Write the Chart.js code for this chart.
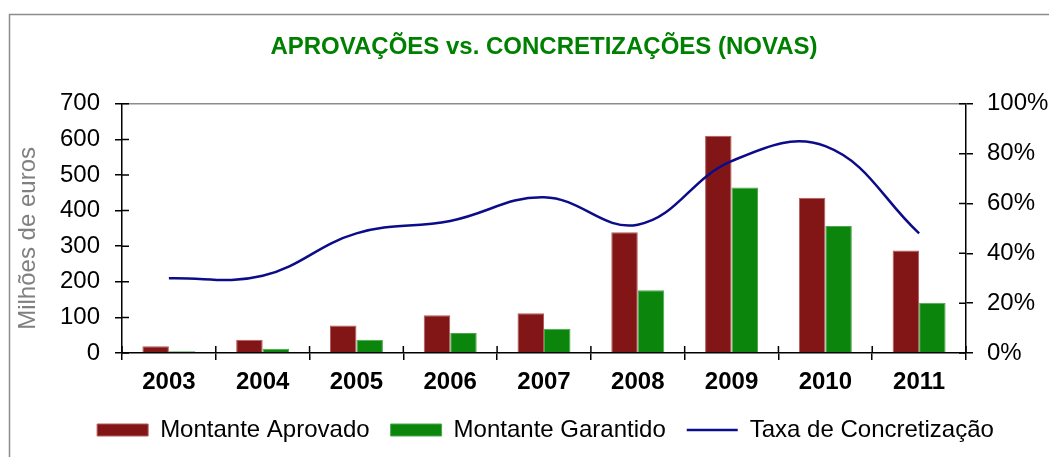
<!DOCTYPE html>
<html>
<head>
<meta charset="utf-8">
<script src="https://cdn.jsdelivr.net/npm/chart.js@4"></script>
<style>
  html, body { margin: 0; padding: 0; background: #ffffff; }
  #wrap { width: 1049px; height: 457px; position: relative; }
</style>
</head>
<body>
<div id="wrap"><canvas id="chart"></canvas></div>
<script>
const years = ['2003', '2004', '2005', '2006', '2007', '2008', '2009', '2010', '2011'];
const montanteAprovado = [19, 37, 77, 106, 112, 339, 610, 436, 288];
const montanteGarantido = [5, 12, 37, 56, 68, 176, 465, 357, 141];
const taxaConcretizacao = [30, 31, 48, 53, 62.5, 51.5, 77, 83, 48];

Chart.defaults.font.family = '"Liberation Sans", Arial, sans-serif';
Chart.defaults.color = '#000000';

// outer frame and the grey top edge of the plot area
const framePlugin = {
    id: 'frame',
    beforeDraw(chart) {
        const { ctx } = chart;
        ctx.save();
        ctx.fillStyle = '#ffffff';
        ctx.fillRect(0, 0, chart.width, chart.height);
        ctx.strokeStyle = '#8c8c8c';
        ctx.lineWidth = 1.5;
        ctx.beginPath();
        ctx.moveTo(9.5, chart.height + 5);
        ctx.lineTo(9.5, 14.5);
        ctx.lineTo(chart.width + 5, 14.5);
        ctx.stroke();
        ctx.restore();
    },
    beforeDatasetsDraw(chart) {
        const { ctx, chartArea } = chart;
        ctx.save();
        ctx.strokeStyle = '#8c8c8c';
        ctx.lineWidth = 1.5;
        ctx.beginPath();
        ctx.moveTo(chartArea.left, chartArea.top);
        ctx.lineTo(chartArea.right, chartArea.top);
        ctx.stroke();
        ctx.restore();
    },
};

// excel-style tick marks that cross the axis (inner half)
const crossTicks = {
    id: 'crossTicks',
    afterDatasetsDraw(chart) {
        const { ctx, chartArea, scales } = chart;
        const len = 7;
        ctx.save();
        ctx.strokeStyle = '#000000';
        ctx.lineWidth = 1.5;
        ctx.beginPath();
        for (let i = 0; i <= years.length; i++) {
            const px = scales.x.getPixelForValue(i - 0.5);
            ctx.moveTo(px, chartArea.bottom);
            ctx.lineTo(px, chartArea.bottom - len);
        }
        scales.y.ticks.forEach((t) => {
            const py = scales.y.getPixelForValue(t.value);
            ctx.moveTo(chartArea.left, py);
            ctx.lineTo(chartArea.left + len, py);
        });
        scales.y1.ticks.forEach((t) => {
            const py = scales.y1.getPixelForValue(t.value);
            ctx.moveTo(chartArea.right, py);
            ctx.lineTo(chartArea.right - len, py);
        });
        ctx.stroke();
        ctx.restore();
    },
};

new Chart(document.getElementById('chart'), {
    type: 'bar',
    data: {
        labels: years,
        datasets: [
            {
                label: 'Montante Aprovado',
                data: montanteAprovado,
                backgroundColor: '#821616',
                borderColor: '#b45a5a',
                borderWidth: 1,
                pointStyle: 'rect',
                yAxisID: 'y',
                order: 1,
            },
            {
                label: 'Montante Garantido',
                data: montanteGarantido,
                backgroundColor: '#0c850c',
                borderColor: '#4aa84a',
                borderWidth: 1,
                pointStyle: 'rect',
                yAxisID: 'y',
                order: 1,
            },
            {
                type: 'line',
                label: 'Taxa de Concretização',
                data: taxaConcretizacao,
                borderColor: '#0c0c8a',
                backgroundColor: '#0c0c8a',
                borderWidth: 2.5,
                pointRadius: 0,
                pointStyle: 'line',
                tension: 0.4,
                yAxisID: 'y1',
                order: 0,
            },
        ],
    },
    options: {
        responsive: true,
        maintainAspectRatio: false,
        animation: false,
        layout: { padding: { left: 42, right: 0, top: 0, bottom: 5 } },
        datasets: {
            bar: { categoryPercentage: 0.565, barPercentage: 1 },
        },
        plugins: {
            title: {
                display: true,
                text: 'APROVAÇÕES vs. CONCRETIZAÇÕES (NOVAS)',
                color: '#008000',
                fullSize: false,
                font: { size: 24, weight: 'bold' },
                padding: { top: 33, bottom: 42 },
            },
            legend: {
                position: 'bottom',
                labels: {
                    usePointStyle: true,
                    pointStyleWidth: 51,
                    boxHeight: 12,
                    padding: 21,
                    color: '#000000',
                    font: { size: 24 },
                    sort: (a, b) => a.datasetIndex - b.datasetIndex,
                },
            },
            tooltip: { enabled: false },
        },
        scales: {
            x: {
                grid: {
                    drawOnChartArea: false,
                    offset: true,
                    color: '#000000',
                    lineWidth: 1.5,
                    tickLength: 7,
                },
                border: { color: '#000000', width: 1.5 },
                ticks: { color: '#000000', font: { size: 24, weight: 'bold' }, padding: 8, autoSkip: false, maxRotation: 0 },
                afterFit: (scale) => { scale.height = 44; },
            },
            y: {
                position: 'left',
                min: 0,
                max: 700,
                ticks: { stepSize: 100, color: '#000000', font: { size: 24 }, padding: 15, autoSkip: false },
                grid: { drawOnChartArea: false, color: '#000000', lineWidth: 1.5, tickLength: 7 },
                border: { color: '#000000', width: 1.5 },
                title: {
                    display: true,
                    text: 'Milhões de euros   ',
                    color: '#808080',
                    font: { size: 24 },
                    padding: { top: -28, bottom: 0 },
                },
                afterFit: (scale) => { scale.width = 80; },
            },
            y1: {
                position: 'right',
                min: 0,
                max: 100,
                ticks: {
                    stepSize: 20,
                    color: '#000000',
                    font: { size: 24 },
                    padding: 14,
                    autoSkip: false,
                    callback: (value) => `${value}%`,
                },
                grid: { drawOnChartArea: false, color: '#000000', lineWidth: 1.5, tickLength: 7 },
                border: { color: '#000000', width: 1.5 },
                afterFit: (scale) => { scale.width = 83; },
            },
        },
    },
    plugins: [framePlugin, crossTicks],
});
</script>
</body>
</html>
